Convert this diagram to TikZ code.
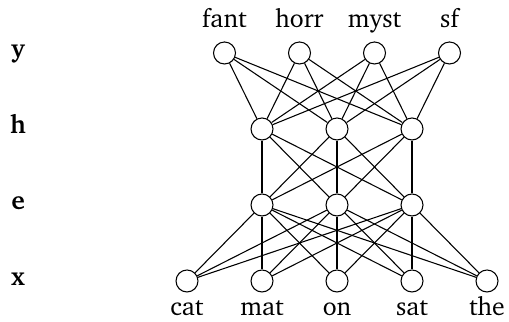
\documentclass[tikz,border=0pt]{standalone}
\usepackage[T1]{fontenc}
\usepackage{charter}
\begin{document}
\begin{tikzpicture}[x=0.466pt, y=-0.466pt,
  unit/.style={circle, draw, line width=0.5pt, minimum size=22*0.466pt, inner sep=0pt},
  conn/.style={line width=0.5pt},
  word/.style={anchor=base, inner sep=0pt, font=\fontsize{12}{14}\selectfont},
  layer/.style={anchor=base, inner sep=0pt, font=\fontsize{12}{14}\selectfont\bfseries}]
\useasboundingbox (0,0) rectangle (509,322);

% output layer
\node[unit] (y1) at (224.5,53) {};
\node[unit] (y2) at (299.5,53) {};
\node[unit] (y3) at (374.5,53) {};
\node[unit] (y4) at (449.5,53) {};
% hidden layer
\node[unit] (h1) at (262,129) {};
\node[unit] (h2) at (337,129) {};
\node[unit] (h3) at (412,129) {};
% embedding layer
\node[unit] (e1) at (262,205) {};
\node[unit] (e2) at (337,205) {};
\node[unit] (e3) at (412,205) {};
% input layer
\node[unit] (x1) at (187,281) {};
\node[unit] (x2) at (262,281) {};
\node[unit] (x3) at (337,281) {};
\node[unit] (x4) at (412,281) {};
\node[unit] (x5) at (487,281) {};

% full connections between consecutive layers
\foreach \a in {y1,y2,y3,y4}
  \foreach \b in {h1,h2,h3}
    \draw[conn] (\a) -- (\b);
\foreach \a in {h1,h2,h3}
  \foreach \b in {e1,e2,e3}
    \draw[conn] (\a) -- (\b);
\foreach \a in {e1,e2,e3}
  \foreach \b in {x1,x2,x3,x4,x5}
    \draw[conn] (\a) -- (\b);

% class labels
\node[word] (lf) at (224.5,28) {fant};
\node[word] (lh) at (299.5,28) {horr};
\node[word] (lm) at (374.5,28) {myst};
\node[word] (ls) at (449.5,28) {sf};
% word labels
\node[word] (wc) at (187,316) {cat};
\node[word] (wm) at (262,316) {mat};
\node[word] (wo) at (337,316) {on};
\node[word] (ws) at (412,316) {sat};
\node[word] (wt) at (487,316) {the};
% layer names
\node[layer] (ny) at (18,58) {y};
\node[layer] (nh) at (18,134) {h};
\node[layer] (ne) at (18,210) {e};
\node[layer] (nx) at (18,286) {x};
\end{tikzpicture}
\end{document}
